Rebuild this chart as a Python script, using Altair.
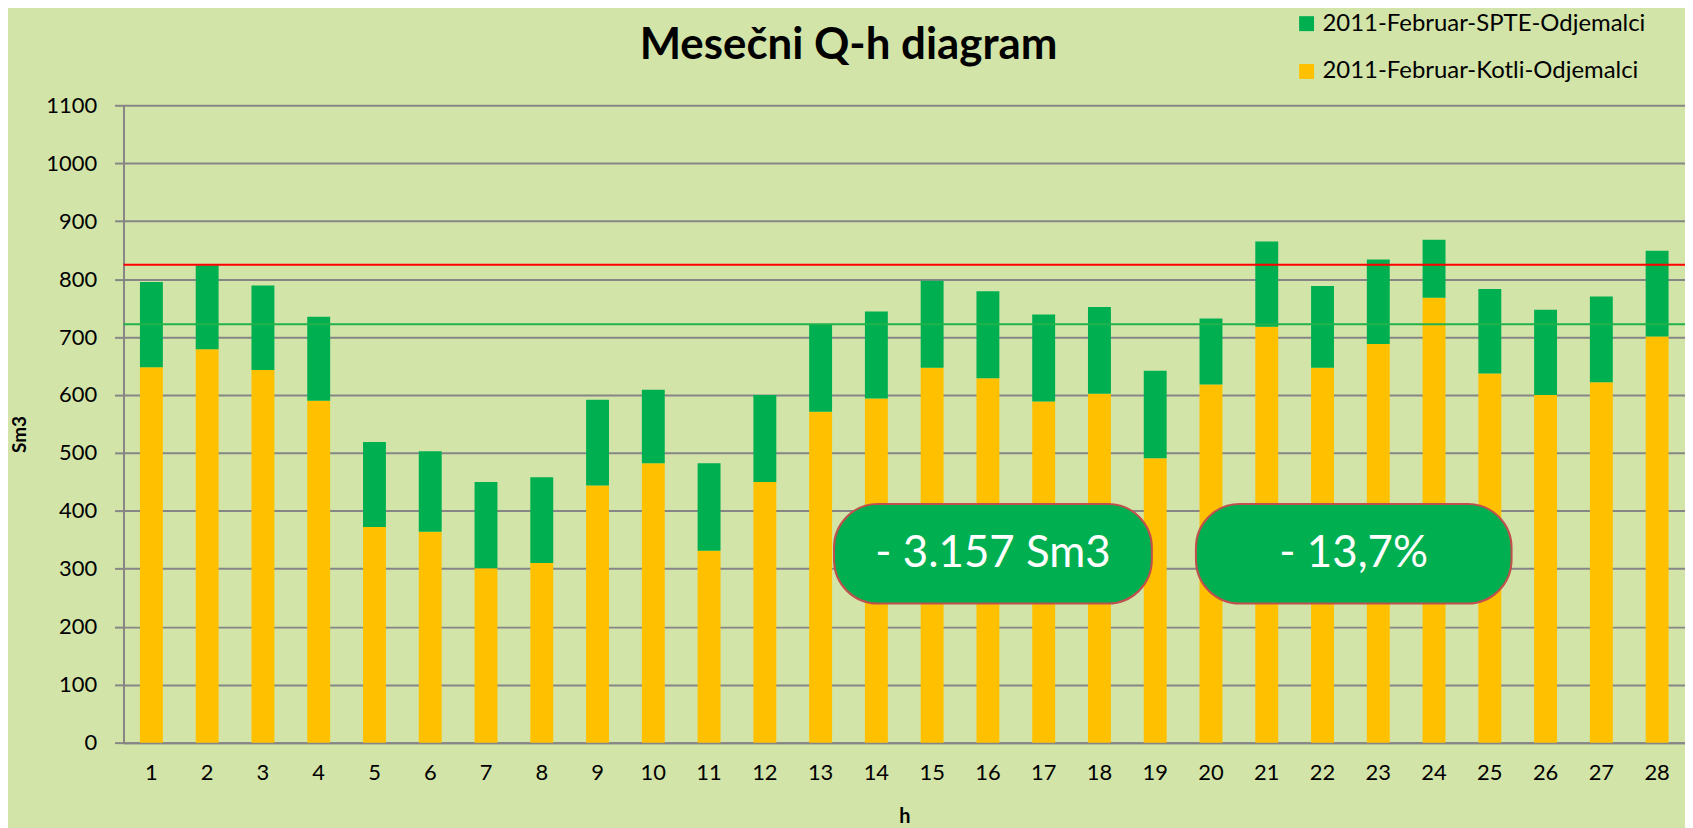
import altair as alt
import pandas as pd

# ---- data ----
hours = list(range(1, 29))
kotli = [648, 679, 643, 590, 372, 364, 301, 310, 444, 482, 331, 450, 571, 594,
         647, 629, 589, 602, 491, 618, 718, 647, 688, 768, 637, 600, 622, 701]
spte = [147, 145, 146, 145, 147, 139, 149, 148, 148, 127, 151, 150, 151, 150,
        150, 150, 150, 150, 151, 114, 147, 141, 146, 100, 146, 147, 148, 148]
series_names = ["2011-Februar-SPTE-Odjemalci", "2011-Februar-Kotli-Odjemalci"]
series_colors = ["#00B050", "#FFC000"]
limit_values = [825, 722]
limit_colors = ["#FF0000", "#22B24C"]
notes = ["- 3.157 Sm3", "- 13,7%"]
note_x_start = [13.24, 19.73]
note_x_end = [18.94, 25.39]
note_y_low = [240, 240]
note_y_high = [412, 412]
title_text = ["Mesečni Q-h diagram"]

FONT = "Lato"
BG = "#D2E4A8"

rows = []
for h, k, s in zip(hours, kotli, spte):
    rows.append({"h": h, "series": series_names[1], "value": k, "ord": 0})
    rows.append({"h": h, "series": series_names[0], "value": s, "ord": 1})
df = pd.DataFrame(rows)

lines_df = pd.DataFrame({"y": limit_values, "c": limit_colors})
notes_df = pd.DataFrame({
    "label": notes,
    "x1": note_x_start,
    "x2": note_x_end,
    "y1": note_y_low,
    "y2": note_y_high,
})
notes_df["xm"] = (notes_df["x1"] + notes_df["x2"]) / 2
notes_df["ym"] = (notes_df["y1"] + notes_df["y2"]) / 2
title_df = pd.DataFrame({"t": title_text})

yscale = alt.Scale(domain=[0, 1100], nice=False)

bars = alt.Chart(df).mark_bar(size=23).encode(
    x=alt.X("h:O", title="h",
            scale=alt.Scale(paddingInner=0, paddingOuter=0),
            axis=alt.Axis(labelAngle=0, ticks=False, labelPadding=20,
                          labelFontSize=22, labelFont=FONT, labelColor="#000000",
                          titleFont=FONT, titleFontSize=20, titleFontWeight="bold",
                          titleColor="#000000", titleY=74, titleBaseline="middle",
                          domainColor="#868686", domainWidth=2, grid=False)),
    y=alt.Y("value:Q", stack="zero", scale=yscale, title="Sm3",
            axis=alt.Axis(values=list(range(0, 1101, 100)), format="d",
                          tickSize=9, tickColor="#868686", tickWidth=2,
                          labelPadding=18, labelFontSize=22, labelFont=FONT,
                          labelColor="#000000",
                          gridColor="#868686", gridWidth=2,
                          domainColor="#868686", domainWidth=2,
                          titleFont=FONT, titleFontSize=19, titleFontWeight="bold",
                          titleColor="#000000", titleX=-104, titleY=330,
                          titleAngle=-90, titleAlign="center",
                          titleBaseline="middle")),
    color=alt.Color("series:N",
                    scale=alt.Scale(domain=series_names, range=series_colors),
                    legend=alt.Legend(title=None, orient="none",
                                      legendX=1176, legendY=-94,
                                      symbolType="square", symbolSize=225,
                                      symbolStrokeWidth=0,
                                      labelFont=FONT, labelFontSize=24,
                                      labelColor="#000000", rowPadding=24,
                                      labelLimit=500)),
    order=alt.Order("ord:Q", sort="ascending"),
)

rules = alt.Chart(lines_df).mark_rule(strokeWidth=2).encode(
    y=alt.Y("y:Q", scale=yscale),
    color=alt.Color("c:N", scale=None),
)

xq = alt.Scale(domain=[0.5, 28.5], nice=False, zero=False)

boxes = alt.Chart(notes_df).mark_rect(cornerRadius=44, color="#00B050",
                                      stroke="#C0504D", strokeWidth=2).encode(
    x=alt.X("x1:Q", scale=xq, axis=None),
    x2="x2:Q",
    y=alt.Y("y1:Q", scale=yscale),
    y2="y2:Q",
)

texts = alt.Chart(notes_df).mark_text(font=FONT, fontSize=44, color="#FFFFFF",
                                      baseline="middle", align="center").encode(
    x=alt.X("xm:Q", scale=xq, axis=None),
    y=alt.Y("ym:Q", scale=yscale),
    text="label:N",
)

title = alt.Chart(title_df).mark_text(font=FONT, fontSize=44, fontWeight="bold",
                                      color="#000000", align="center",
                                      baseline="alphabetic").encode(
    x=alt.value(728),
    y=alt.value(-47),
    text="t:N",
)

chart = alt.layer(bars, rules, boxes, texts, title).resolve_scale(
    x="independent", color="independent"
).properties(
    width=1568,
    height=640,
    autosize=alt.AutoSizeParams(type="none"),
    padding={"left": 116, "top": 96, "right": 0, "bottom": 84},
    background=BG,
).configure_view(stroke=None)

chart.save("out.html", embed_options={"renderer": "svg", "actions": False})
